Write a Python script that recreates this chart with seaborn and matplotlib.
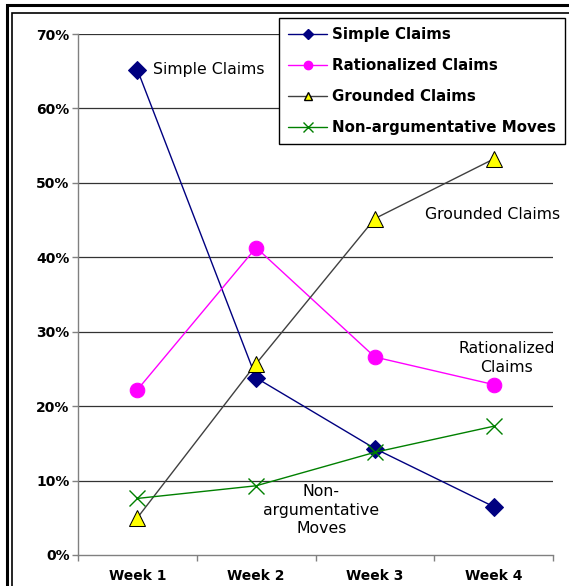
import matplotlib
matplotlib.use("Agg")
import matplotlib.pyplot as plt
import seaborn as sns
import pandas as pd
from matplotlib.lines import Line2D
from matplotlib.patches import Rectangle

weeks = ["Week 1", "Week 2", "Week 3", "Week 4"]
simple_claims = [65.2, 23.8, 14.3, 6.5]
rationalized_claims = [22.2, 41.3, 26.6, 22.9]
grounded_claims = [5.0, 25.7, 45.2, 53.2]
non_argumentative = [7.6, 9.3, 13.8, 17.3]
y_ticks = [0, 10, 20, 30, 40, 50, 60, 70]
y_tick_labels = ["0%", "10%", "20%", "30%", "40%", "50%", "60%", "70%"]

sns.set_theme(style="white")
plt.rcParams['font.family'] = ['DejaVu Sans']

W, H = 569, 586
fig = plt.figure(figsize=(W / 100, H / 100), dpi=100)
ax = fig.add_axes([78 / W, 31 / H, (553 - 78) / W, (555 - 34) / H])

series = [
    ("Simple Claims", simple_claims, dict(color="#000080", marker="D", markersize=9.5,
                                          markerfacecolor="#000080", markeredgecolor="#000080")),
    ("Rationalized Claims", rationalized_claims, dict(color="#FF00FF", marker="o", markersize=10.5,
                                                      markerfacecolor="#FF00FF", markeredgecolor="#FF00FF")),
    ("Grounded Claims", grounded_claims, dict(color="#404040", marker="^", markersize=11,
                                              markerfacecolor="#FFFF00", markeredgecolor="#000000")),
    ("Non-argumentative Moves", non_argumentative, dict(color="#008000", marker="x", markersize=12,
                                                        markeredgecolor="#008000", markeredgewidth=1.0)),
]

xpos = list(range(len(weeks)))
for name, vals, st in series:
    df = pd.DataFrame({"x": xpos, "y": vals})
    sns.lineplot(data=df, x="x", y="y", ax=ax, linewidth=1.0, legend=False, zorder=3, **st)

ax.set_xlim(-0.5, 3.5)
ax.set_ylim(0, 70)
ax.set_yticks(y_ticks)
ax.set_yticklabels(y_tick_labels)
ax.set_xticks(xpos)
ax.set_xticklabels(weeks)
ax.set_xticks([-0.5, 0.5, 1.5, 2.5, 3.5], minor=True)
ax.set_xlabel("")
ax.set_ylabel("")

for t in y_ticks[1:]:
    ax.axhline(t, color="#333333", linewidth=0.9, zorder=1)

for s in ["top", "right"]:
    ax.spines[s].set_visible(False)
for s in ["left", "bottom"]:
    ax.spines[s].set_color("#808080")
    ax.spines[s].set_linewidth(1.0)

ax.tick_params(axis="y", which="major", length=4, width=1, color="#808080", direction="out",
               left=True, pad=2, labelsize=10)
ax.tick_params(axis="x", which="major", length=0, pad=10, labelsize=10)
ax.tick_params(axis="x", which="minor", length=4, width=1, color="#808080", direction="out", bottom=True)
for lab in ax.get_xticklabels() + ax.get_yticklabels():
    lab.set_fontweight("bold")
    lab.set_color("black")

# annotations
ax.text(0.13, 65.2, "Simple Claims", fontsize=11.3, va="center", ha="left", color="black")
ax.text(2.99, 45.7, "Grounded Claims", fontsize=11.3, va="center", ha="center", color="black")
ax.text(3.11, 26.5, "Rationalized\nClaims", fontsize=11.3, va="center", ha="center", color="black",
        linespacing=1.35)
ax.text(1.55, 6.0, "Non-\nargumentative\nMoves", fontsize=11.3, va="center", ha="center", color="black",
        linespacing=1.3)

# legend
handles = [
    Line2D([], [], color="#000080", marker="D", markersize=5, markerfacecolor="#000080", lw=1),
    Line2D([], [], color="#FF00FF", marker="o", markersize=6, markerfacecolor="#FF00FF", lw=1),
    Line2D([], [], color="#404040", marker="^", markersize=6, markerfacecolor="#FFFF00",
           markeredgecolor="black", lw=1),
    Line2D([], [], color="#008000", marker="x", markersize=7, markeredgecolor="#008000", lw=1),
]
labels = [s[0] for s in series]
leg = fig.legend(handles, labels, loc="upper right", bbox_to_anchor=(565 / W, 1 - 18 / H),
                 bbox_transform=fig.transFigure, frameon=True, fancybox=False, framealpha=1,
                 edgecolor="black", prop=dict(weight="bold", size=10.8), handlelength=2.6,
                 handletextpad=0.3, labelspacing=1.06, borderpad=0.62, borderaxespad=0)
leg.get_frame().set_linewidth(1.0)
for t in leg.get_texts():
    t.set_color("black")

# outer double frame
fig.patches.append(Rectangle((7 / W, -0.1), 1.2, 1 - 5 / H + 0.1, transform=fig.transFigure,
                             fill=False, edgecolor="black", linewidth=2.2))
fig.patches.append(Rectangle((11.5 / W, -0.1), 1.2, 1 - 13 / H + 0.1, transform=fig.transFigure,
                             fill=False, edgecolor="black", linewidth=1.2))

fig.savefig("out.png", dpi=100)
